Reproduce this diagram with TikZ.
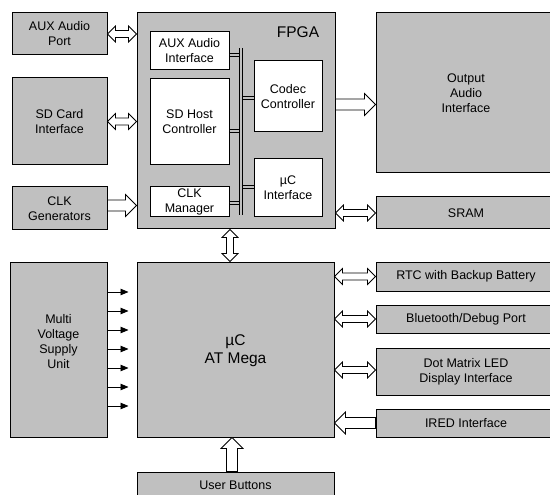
\documentclass[tikz,border=0pt]{standalone}
\usepackage{fontspec}
\setmainfont{Liberation Sans}
\usetikzlibrary{calc,arrows.meta}
\definecolor{boxgray}{RGB}{192,192,192}
\newcommand\fsn{\fontsize{12.5}{15}\selectfont}
\newcommand\fsb{\fontsize{15.5}{18}\selectfont}
\begin{document}
\begin{tikzpicture}[x=1pt,y=-1pt,
  box/.style={draw=black, line width=1pt, fill=boxgray, inner sep=0pt, align=center, font=\fsn},
  wbox/.style={box, fill=white},
  lbl/.style={inner sep=0pt, align=center, font=\fsn},
  bus/.style={draw=black, line width=0.8pt, double=boxgray, double distance=2pt},
  pw/.style={draw=black, line width=0.9pt, -{Triangle[length=8pt,width=6.5pt]}},
  dbl/.style={draw=black, line width=0.8pt, fill=white, line join=miter, to path={
    (\tikztostart) -- ($(\tikztostart)!8pt!(\tikztotarget)!8pt!90:(\tikztotarget)$)
    -- ($(\tikztostart)!8pt!(\tikztotarget)!3.5pt!90:(\tikztotarget)$)
    -- ($(\tikztotarget)!8pt!(\tikztostart)!3.5pt!-90:(\tikztostart)$)
    -- ($(\tikztotarget)!8pt!(\tikztostart)!8pt!-90:(\tikztostart)$)
    -- (\tikztotarget)
    -- ($(\tikztotarget)!8pt!(\tikztostart)!8pt!90:(\tikztostart)$)
    -- ($(\tikztotarget)!8pt!(\tikztostart)!3.5pt!90:(\tikztostart)$)
    -- ($(\tikztostart)!8pt!(\tikztotarget)!3.5pt!-90:(\tikztotarget)$)
    -- ($(\tikztostart)!8pt!(\tikztotarget)!8pt!-90:(\tikztotarget)$)
    -- cycle}},
  sgl/.style={draw=black, line width=0.8pt, fill=white, line join=miter, to path={
    ($(\tikztostart)!5.5pt!90:(\tikztotarget)$)
    -- ($(\tikztotarget)!11pt!(\tikztostart)!5.5pt!-90:(\tikztostart)$)
    -- ($(\tikztotarget)!11pt!(\tikztostart)!11pt!-90:(\tikztostart)$)
    -- (\tikztotarget)
    -- ($(\tikztotarget)!11pt!(\tikztostart)!11pt!90:(\tikztostart)$)
    -- ($(\tikztotarget)!11pt!(\tikztostart)!5.5pt!90:(\tikztostart)$)
    -- ($(\tikztostart)!5.5pt!-90:(\tikztotarget)$)
    -- cycle}}
]
\useasboundingbox (0,0) rectangle (550,495);
\clip (0,0) rectangle (550,495);

% left column
\node[box, minimum width=95pt, minimum height=42pt] (auxport) at (59.5,34) {AUX Audio\\Port};
\node[box, minimum width=95pt, minimum height=87pt] (sdcard) at (59.5,121.5) {SD Card\\Interface};
\node[box, minimum width=95pt, minimum height=43pt] (clkgen) at (59.5,208.5) {CLK\\Generators};

% FPGA
\node[box, minimum width=198pt, minimum height=216pt] (fpga) at (236,121) {};
\node[lbl, font=\fsb] (fpgalbl) at (298,32) {FPGA};
\node[wbox, minimum width=79pt, minimum height=38pt] (auxif) at (189.5,51) {AUX Audio\\Interface};
\node[wbox, minimum width=79pt, minimum height=86pt] (sdhost) at (189.5,122) {SD Host\\Controller};
\node[wbox, minimum width=79pt, minimum height=30pt] (clkman) at (189.5,202) {CLK\\Manager};
\node[wbox, minimum width=68pt, minimum height=71pt] (codec) at (288,96.5) {Codec\\Controller};
\node[wbox, minimum width=68pt, minimum height=58pt] (ucif) at (288,188) {µC\\Interface};

% bus
\coordinate (bt) at (241,48);
\coordinate (bb) at (241,215);
\draw[bus] (auxif.east |- 0,55) -- (bt |- 0,55);
\draw[bus] (sdhost.east |- 0,131) -- (bt |- 0,131);
\draw[bus] (clkman.east |- 0,203) -- (bt |- 0,203);
\draw[bus] (codec.west |- 0,98) -- (bt |- 0,98);
\draw[bus] (ucif.west |- 0,187) -- (bt |- 0,187);
\draw[bus] (bt) -- (bb);

% right top
\node[box, minimum width=180pt, minimum height=160pt] (outaudio) at (466,93) {Output\\Audio\\Interface};
\node[box, minimum width=180pt, minimum height=32pt] (sram) at (466,213) {SRAM};

% lower part
\node[box, minimum width=97pt, minimum height=175pt] (msu) at (58.5,349.5) {};
\node[lbl] (msulbl) at (58.5,342) {Multi\\Voltage\\Supply\\Unit};
\node[box, minimum width=197pt, minimum height=175pt, font=\fsb, text depth=0pt] (uc) at (235.5,349.5) {µC\\AT Mega};
\node[box, minimum width=180pt, minimum height=29pt] (rtc) at (466,276.5) {RTC with Backup Battery};
\node[box, minimum width=180pt, minimum height=28pt] (bt2) at (466,319) {Bluetooth/Debug Port};
\node[box, minimum width=180pt, minimum height=47pt] (dot) at (466,371.5) {Dot Matrix LED\\Display Interface};
\node[box, minimum width=180pt, minimum height=28pt] (ired) at (466,423) {IRED Interface};
\node[box, minimum width=197pt, minimum height=36pt, text depth=0pt] (userbtn) at (235.5,490) {};
\node[lbl] (userlbl) at (235.5,485.5) {User Buttons};

% block arrows
\draw[dbl] (auxport.east) to (fpga.west |- auxport.east);
\draw[dbl] (sdcard.east) to (fpga.west |- sdcard.east);
\coordinate (c1) at ($(clkgen.east)+(0,-3)$);
\coordinate (c2) at (fpga.west |- c1);
\draw[sgl] (c1) to (c2);
\coordinate (o1) at (fpga.east |- 0,104.5);
\coordinate (o2) at (outaudio.west |- o1);
\draw[sgl] (o1) to (o2);
\draw[dbl] (fpga.east |- sram.west) to (sram.west);
\coordinate (v1) at (fpga.south -| 230,0);
\coordinate (v2) at (uc.north -| 230,0);
\draw[dbl] (v1) to (v2);
\coordinate (u1) at (userbtn.north -| 232,0);
\coordinate (u2) at (uc.south -| 232,0);
\draw[sgl] (u1) to (u2);
\draw[dbl] (uc.east |- rtc.west) to (rtc.west);
\draw[dbl] (uc.east |- bt2.west) to (bt2.west);
\draw[dbl] (uc.east |- 0,370) to (dot.west |- 0,370);
\draw[sgl] (ired.west) to (uc.east |- ired.west);

% supply arrows
\foreach \yy in {292,311,330,349,368,387,406}
  \draw[pw] (msu.east |- 0,\yy) -- ++(21,0);
\end{tikzpicture}
\end{document}
